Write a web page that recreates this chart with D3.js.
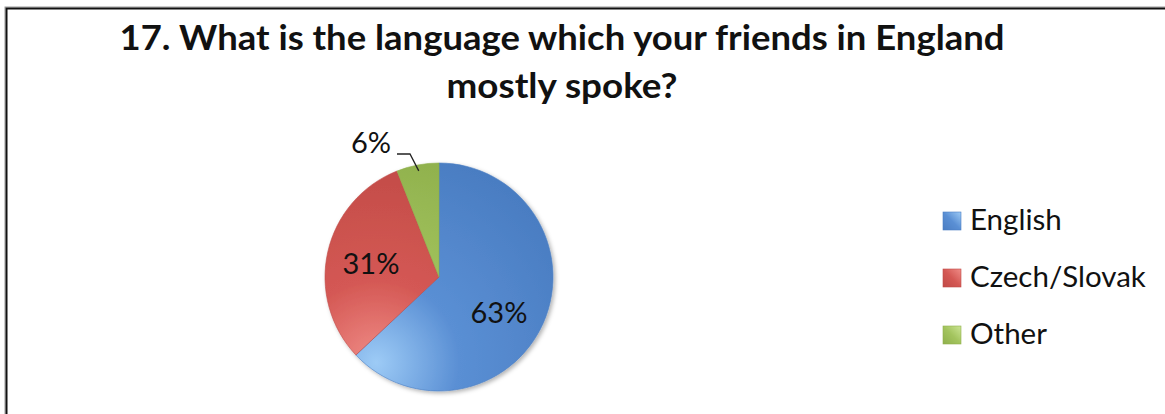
<!DOCTYPE html>
<html>
<head>
<meta charset="utf-8">
<script src="https://cdn.jsdelivr.net/npm/d3@7"></script>
<style>
  html, body { margin: 0; padding: 0; background: #fff; }
  svg { display: block; }
  text { font-family: Lato, "Open Sans", sans-serif; fill: #111; }
</style>
</head>
<body>
<svg id="chart" width="1165" height="414"></svg>
<script>
// Survey question 17 — language mostly spoken by friends in England
const categories = ["English", "Czech/Slovak", "Other"];
const shares = [63, 31, 6];
const baseColors = ["#5A8FD4", "#D45854", "#A3C45E"];
const lightColors = ["#9DCBF6", "#F08C87", "#CBE594"];
const darkColors = ["#4A7DC2", "#C04A46", "#8FB04C"];
const titleLines = ["17. What is the language which your friends in England", "mostly spoke?"];

const W = 1165, H = 414;
const svg = d3.select("#chart");
const defs = svg.append("defs");

// chart frame (extends past the right and bottom edges)
svg.append("rect").attr("x", 5).attr("y", 7).attr("width", W + 20).attr("height", H + 20)
  .attr("fill", "#fff").attr("stroke", "#9a9a9a").attr("stroke-width", 1);
svg.append("rect").attr("x", 6.5).attr("y", 8.5).attr("width", W + 20).attr("height", H + 20)
  .attr("fill", "none").attr("stroke", "#111").attr("stroke-width", 2);

// title
const titleX = 562;
const titleBase = [50, 98];
const titleWidth = [885, 231];
titleLines.forEach((t, i) => {
  svg.append("text")
    .attr("x", titleX).attr("y", titleBase[i])
    .attr("text-anchor", "middle")
    .attr("font-size", 34).attr("font-weight", 700)
    .attr("textLength", titleWidth[i]).attr("lengthAdjust", "spacingAndGlyphs")
    .text(t);
});

// pie
const cx = 439, cy = 277, r = 114;

// per-slice shading gradients, in the pie group's local frame
categories.forEach((c, i) => {
  const g = defs.append("radialGradient")
    .attr("id", "grad" + i)
    .attr("gradientUnits", "userSpaceOnUse")
    .attr("cx", -r * 0.55).attr("cy", r * 0.75).attr("r", r * 1.9)
    .attr("fx", -r * 0.55).attr("fy", r * 0.75);
  g.append("stop").attr("offset", "0%").attr("stop-color", lightColors[i]);
  g.append("stop").attr("offset", "38%").attr("stop-color", baseColors[i]);
  g.append("stop").attr("offset", "100%").attr("stop-color", darkColors[i]);

  const lg = defs.append("linearGradient")
    .attr("id", "key" + i).attr("x1", 0).attr("y1", 1).attr("x2", 1).attr("y2", 0);
  lg.append("stop").attr("offset", "0%").attr("stop-color", darkColors[i]);
  lg.append("stop").attr("offset", "50%").attr("stop-color", baseColors[i]);
  lg.append("stop").attr("offset", "100%").attr("stop-color", lightColors[i]);
});

const shadow = defs.append("filter").attr("id", "shadow")
  .attr("x", "-20%").attr("y", "-20%").attr("width", "140%").attr("height", "140%");
shadow.append("feDropShadow").attr("dx", 2).attr("dy", 2).attr("stdDeviation", 2)
  .attr("flood-color", "#000").attr("flood-opacity", 0.3);

const pie = d3.pie().sort(null).value(d => d);
const arcs = pie(shares);
const arc = d3.arc().innerRadius(0).outerRadius(r);

const pieG = svg.append("g").attr("transform", `translate(${cx},${cy})`)
  .attr("filter", "url(#shadow)");
pieG.selectAll("path.slice").data(arcs).enter().append("path")
  .attr("class", "slice")
  .attr("d", arc)
  .attr("fill", (d, i) => `url(#grad${i})`)
  .attr("stroke", (d, i) => darkColors[i]).attr("stroke-width", 0.6);

// value labels
const labelPos = [[499, 323], [371, 274], [371, 153]];
arcs.forEach((d, i) => {
  svg.append("text")
    .attr("x", labelPos[i][0]).attr("y", labelPos[i][1])
    .attr("text-anchor", "middle")
    .attr("font-size", 29)
    .text(shares[i] + "%");
});
// leader line for the small slice
const mid = (arcs[2].startAngle + arcs[2].endAngle) / 2;
const ex = cx + Math.sin(mid) * (r - 6), ey = cy - Math.cos(mid) * (r - 6);
svg.append("path")
  .attr("d", `M397,154 L410,154 L${ex},${ey}`)
  .attr("fill", "none").attr("stroke", "#222").attr("stroke-width", 1.3);

// legend
const legendY = d3.scalePoint().domain(categories).range([221, 335]);
const leg = svg.append("g");
categories.forEach((c, i) => {
  const y = legendY(c);
  leg.append("rect").attr("x", 943).attr("y", y - 9).attr("width", 18).attr("height", 18)
    .attr("fill", `url(#key${i})`).attr("stroke", darkColors[i]).attr("stroke-width", 0.6);
  leg.append("text").attr("x", 970).attr("y", y + 9)
    .attr("font-size", 29.5).text(c);
});
</script>
</body>
</html>
